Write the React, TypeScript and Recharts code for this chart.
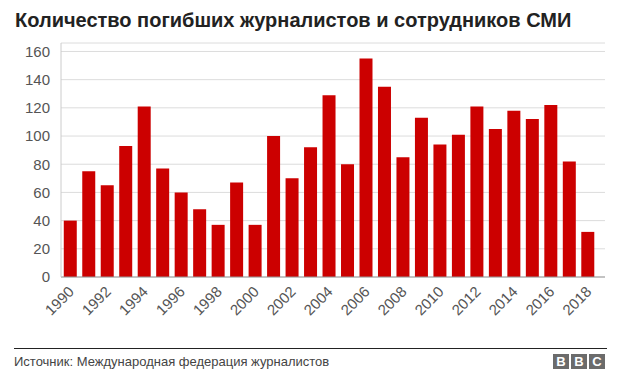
import React from 'react';
import { BarChart, Bar, XAxis, YAxis, CartesianGrid } from 'recharts';

const years = [
  '1990', '1991', '1992', '1993', '1994', '1995', '1996', '1997', '1998', '1999',
  '2000', '2001', '2002', '2003', '2004', '2005', '2006', '2007', '2008', '2009',
  '2010', '2011', '2012', '2013', '2014', '2015', '2016', '2017', '2018',
];
const deaths = [
  40, 75, 65, 93, 121, 77, 60, 48, 37, 67,
  37, 100, 70, 92, 129, 80, 155, 135, 85, 113,
  94, 101, 121, 105, 118, 112, 122, 82, 32,
];
const yTicks = [0, 20, 40, 60, 80, 100, 120, 140, 160];

const title = 'Количество погибших журналистов и сотрудников СМИ';
const source = 'Источник: Международная федерация журналистов';

const font = '"Liberation Sans", Arial, sans-serif';

const data = years.map((year, i) => ({ year, value: deaths[i] }));

function YearTick(props: any) {
  const { x, y, payload } = props;
  return (
    <g transform={`translate(${x + 1},${y + 4})`}>
      <text
        transform="rotate(-45)"
        textAnchor="end"
        dy="0.35em"
        fill="#555"
        fontSize={15}
        fontFamily={font}
      >
        {payload.value}
      </text>
    </g>
  );
}

function BbcLogo() {
  const box: React.CSSProperties = {
    width: 16,
    height: 15,
    background: '#6b6b6b',
    color: '#fff',
    fontWeight: 'bold',
    fontSize: 13,
    lineHeight: '15px',
    textAlign: 'center',
    fontFamily: font,
  };
  return (
    <div style={{ position: 'absolute', left: 553, top: 354, display: 'flex', gap: 2 }}>
      <div style={box}>B</div>
      <div style={box}>B</div>
      <div style={box}>C</div>
    </div>
  );
}

export default function App() {
  return (
    <div
      style={{
        position: 'absolute',
        left: 0,
        top: 0,
        width: 623,
        height: 380,
        background: '#fff',
        fontFamily: font,
        overflow: 'hidden',
      }}
    >
      <div
        style={{
          position: 'absolute',
          left: 15,
          top: 9,
          fontSize: 20,
          fontWeight: 'bold',
          color: '#222',
          whiteSpace: 'nowrap',
        }}
      >
        {title}
      </div>
      <div style={{ position: 'absolute', left: 0, top: 0 }}>
        <BarChart
          width={623}
          height={340}
          data={data}
          margin={{ top: 43, right: 18, bottom: 0, left: 0 }}
          barCategoryGap="15%"
        >
          <CartesianGrid vertical={false} stroke="#dcdcdc" />
          <XAxis
            dataKey="year"
            interval={1}
            tickLine={false}
            stroke="#999"
            height={63}
            padding={{ left: 0, right: 8 }}
            tick={<YearTick />}
          />
          <YAxis
            domain={[0, 166]}
            ticks={yTicks}
            width={61}
            tickLine={false}
            stroke="#ccc"
            tickSize={8}
            tickMargin={3}
            tick={{ fill: '#555', fontSize: 15, fontFamily: font }}
          />
          <Bar dataKey="value" fill="#cc0000" isAnimationActive={false} />
        </BarChart>
      </div>
      <div
        style={{
          position: 'absolute',
          left: 14,
          top: 348,
          width: 593,
          borderTop: '1px solid #222',
        }}
      />
      <div
        style={{
          position: 'absolute',
          left: 14,
          top: 354,
          fontSize: 13,
          color: '#444',
          whiteSpace: 'nowrap',
        }}
      >
        {source}
      </div>
      <BbcLogo />
    </div>
  );
}
